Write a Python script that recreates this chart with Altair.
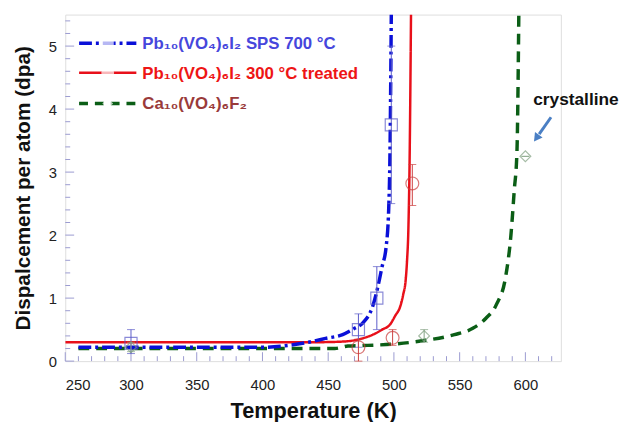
import altair as alt
import pandas as pd
import numpy as np

# ---- fitted curves ----
blue_T = [260, 400, 420, 435, 448, 461, 470, 476, 484, 488, 491, 494, 496, 497, 498]
blue_v = [0.22, 0.22, 0.25, 0.30, 0.36, 0.42, 0.52, 0.60, 0.88, 1.20, 1.50, 1.80, 2.40, 3.30, 5.50]
red_T = [250, 400, 440, 461, 476, 486, 491, 497, 501, 505, 507, 509, 510, 511, 512, 513]
red_v = [0.30, 0.30, 0.30, 0.31, 0.36, 0.44, 0.50, 0.58, 0.72, 0.88, 1.05, 1.30, 1.60, 2.10, 3.30, 5.50]
green_T = [260, 455, 465, 480, 500, 524, 546, 560, 570, 578, 585, 589, 591.5, 593.6, 595]
green_v = [0.20, 0.20, 0.24, 0.25, 0.27, 0.33, 0.42, 0.52, 0.68, 0.90, 1.34, 2.00, 2.70, 3.33, 5.50]

# ---- measured points with error bars ----
blue_pT = [300, 473, 487, 498]
blue_pv = [0.28, 0.50, 1.00, 3.75]
blue_lo = [0.12, 0.22, 0.50, 2.50]
blue_hi = [0.50, 0.75, 1.50, 5.00]
red_pT = [473, 499, 514]
red_pv = [0.22, 0.37, 2.82]
red_lo = [0.00, 0.25, 2.47]
red_hi = [0.35, 0.50, 3.12]
green_pT = [300, 523, 600]
green_pv = [0.22, 0.40, 3.25]
green_lo = [0.15, 0.30, 3.25]
green_hi = [0.30, 0.50, 3.25]

x_labels = [250, 300, 350, 400, 450, 500, 550, 600]
y_labels = [0, 1, 2, 3, 4, 5]
x_minor = list(range(250, 630, 10))
y_minor = [round(v, 1) for v in np.arange(0, 5.5, 0.2)]

labels = ["Pb₁₀(VO₄)₆I₂  SPS 700 °C", "Pb₁₀(VO₄)₆I₂  300 °C treated", "Ca₁₀(VO₄)₆F₂"]

BLUE = "#0a10d8"
RED = "#e8101a"
GREEN = "#0b5e16"
FRAME = "#9a9ad0"
FONT = "Liberation Sans"

W, H = 502, 351
xs = alt.Scale(domain=[250, 627], nice=False, zero=False)
ys = alt.Scale(domain=[0, 5.5], nice=False)


def curve(T, v, color, dash, width):
    df = pd.DataFrame({"T": T, "v": v})
    return alt.Chart(df).mark_line(color=color, strokeDash=dash, strokeWidth=width,
                                   interpolate="monotone", clip=True).encode(
        x=alt.X("T:Q", scale=xs), y=alt.Y("v:Q", scale=ys))


def points(T, v, lo, hi, color, shape, size):
    df = pd.DataFrame({"T": T, "v": v, "lo": lo, "hi": hi})
    base = alt.Chart(df)
    err = base.mark_rule(color=color, strokeWidth=1).encode(
        x=alt.X("T:Q", scale=xs), y=alt.Y("lo:Q", scale=ys), y2="hi:Q")
    caplo = base.mark_tick(color=color, thickness=1, size=8, orient="horizontal").encode(
        x=alt.X("T:Q", scale=xs), y=alt.Y("lo:Q", scale=ys))
    caphi = base.mark_tick(color=color, thickness=1, size=8, orient="horizontal").encode(
        x=alt.X("T:Q", scale=xs), y=alt.Y("hi:Q", scale=ys))
    pt = base.mark_point(color=color, shape=shape, size=size, filled=False, strokeWidth=1.2).encode(
        x=alt.X("T:Q", scale=xs), y=alt.Y("v:Q", scale=ys))
    return err + caplo + caphi + pt


# axes carrier
axes = alt.Chart(pd.DataFrame({"T": [250], "v": [0]})).mark_point(opacity=0).encode(
    x=alt.X("T:Q", scale=xs, title="Temperature (K)",
            axis=alt.Axis(values=x_labels, format="d", tickSize=0, domain=False, grid=False,
                          labelFontSize=15, labelPadding=17, labelColor="#222",
                          labelFont=FONT, titleFont=FONT, titleFontSize=22,
                          titleFontWeight="bold", titlePadding=8, titleColor="#111")),
    y=alt.Y("v:Q", scale=ys, title="Dispalcement per atom (dpa)",
            axis=alt.Axis(values=y_labels, format="d", tickSize=0, domain=False, grid=False,
                          labelFontSize=15, labelPadding=9, labelColor="#222",
                          labelFont=FONT, titleFont=FONT, titleFontSize=21,
                          titleFontWeight="bold", titlePadding=15, titleColor="#111")))

# inward ticks
xmin_df = pd.DataFrame({"T": x_minor})
xmin_df["major"] = xmin_df["T"] % 50 == 0
xt_minor = alt.Chart(xmin_df[~xmin_df["major"]]).mark_rule(color=FRAME, strokeWidth=1).encode(
    x=alt.X("T:Q", scale=xs), y=alt.value(H), y2=alt.value(H - 5))
xt_major = alt.Chart(xmin_df[xmin_df["major"]]).mark_rule(color=FRAME, strokeWidth=1).encode(
    x=alt.X("T:Q", scale=xs), y=alt.value(H), y2=alt.value(H - 9))
ymin_df = pd.DataFrame({"v": y_minor})
ymin_df["major"] = ymin_df["v"] % 1 == 0
yt_minor = alt.Chart(ymin_df[~ymin_df["major"]]).mark_rule(color=FRAME, strokeWidth=1).encode(
    y=alt.Y("v:Q", scale=ys), x=alt.value(0), x2=alt.value(5))
yt_major = alt.Chart(ymin_df[ymin_df["major"]]).mark_rule(color=FRAME, strokeWidth=1).encode(
    y=alt.Y("v:Q", scale=ys), x=alt.value(0), x2=alt.value(9))

layers = [axes, xt_minor, xt_major, yt_minor, yt_major,
          curve(green_T, green_v, GREEN, [11, 7], 3.5),
          curve(red_T, red_v, RED, [1, 0], 2.5),
          curve(blue_T, blue_v, BLUE, [13, 4, 3, 4], 3.5),
          points(blue_pT, blue_pv, blue_lo, blue_hi, "#5a5ac8", "square", 150),
          points(red_pT, red_pv, red_lo, red_hi, "#cc4040", "circle", 170),
          points(green_pT, green_pv, green_lo, green_hi, "#80a080", "diamond", 120)]

# legend
one = pd.DataFrame({"a": [0]})
leg_specs = [
    (labels[0], BLUE, [13, 4, 3, 4], 3.5, "#5a5ac8", "square", 150, "#4646dc", 29),
    (labels[1], RED, [1, 0], 2.5, "#cc4040", "circle", 170, "#ee1515", 59),
    (labels[2], GREEN, [9, 7], 3.5, "#80a080", "diamond", 120, "#9a3a3a", 90),
]
for text, lc, dash, lw, mc, shape, size, tc, yy in leg_specs:
    layers.append(alt.Chart(one).mark_rule(color=lc, strokeDash=dash, strokeWidth=lw).encode(
        x=alt.value(14), x2=alt.value(72), y=alt.value(yy)))
    layers.append(alt.Chart(one).mark_point(color=mc, shape=shape, size=size, filled=True,
                                            fill="white", strokeWidth=1.2).encode(
        x=alt.value(43), y=alt.value(yy)))
    layers.append(alt.Chart(one).mark_text(text=text, color=tc, font=FONT, fontSize=17,
                                           fontWeight="bold", align="left", baseline="middle").encode(
        x=alt.value(78), y=alt.value(yy + 1)))

# annotation
layers.append(alt.Chart(one).mark_text(text="crystalline", color="#111", font=FONT, fontSize=17.5,
                                       fontWeight="bold", align="left", baseline="middle",
                                       clip=False).encode(x=alt.value(474), y=alt.value(87)))
layers.append(alt.Chart(one).mark_rule(color="#4a7fc4", strokeWidth=3).encode(
    x=alt.value(492), y=alt.value(104), x2=alt.value(480), y2=alt.value(121)))
layers.append(alt.Chart(one).mark_point(shape="triangle", color="#4a7fc4", filled=True,
                                        size=90, angle=216, opacity=1).encode(
    x=alt.value(478), y=alt.value(124)))

chart = alt.layer(*layers).properties(
    width=W, height=H,
    autosize=alt.AutoSizeParams(type="none"),
    padding={"left": 58, "top": 4, "right": 69, "bottom": 59},
).configure_view(stroke=FRAME, strokeWidth=1.5).configure(background="white")

chart.save("out.html", embed_options={"renderer": "svg", "actions": False})
